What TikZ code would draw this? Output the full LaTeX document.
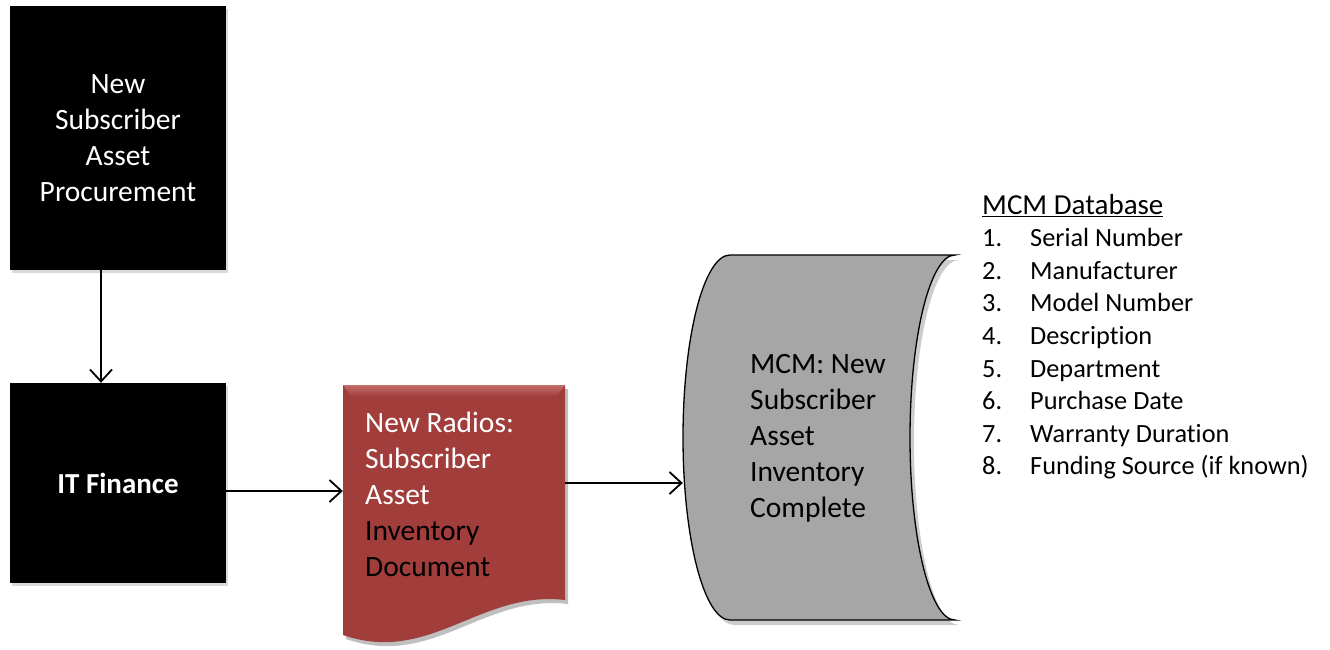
\documentclass[tikz,border=0pt]{standalone}
\usepackage{fontspec}
\setmainfont{Carlito}[Ligatures=NoCommon]
\usetikzlibrary{arrows.meta,shadows}
\definecolor{docred}{RGB}{161,61,59}
\definecolor{docredlight}{RGB}{196,110,106}
\definecolor{storegray}{RGB}{166,166,166}
\begin{document}
\begin{tikzpicture}[x=1pt,y=-1pt,
  blackbox/.style={fill=black,text=white,minimum width=216pt,inner sep=0pt,align=center,
    font=\fontsize{29.5}{36}\selectfont,
    drop shadow={opacity=0.3,shadow xshift=2pt,shadow yshift=-3pt}},
  arr/.style={line width=1.8pt,-{Straight Barb[length=12pt,width=22pt,line width=1.8pt]}},
  bodytext/.style={align=left,inner sep=0pt,font=\fontsize{29.5}{36}\selectfont},
  listtext/.style={align=left,inner sep=0pt,anchor=west,font=\fontsize{26.3}{32.6}\selectfont},
  area/.style={inner sep=0pt}]
\useasboundingbox (0,0) rectangle (1330,649);

% black boxes
\node[blackbox,minimum height=264pt] (proc) at (118,138) {New\\Subscriber\\Asset\\Procurement};
\node[blackbox,minimum height=200pt,font=\fontsize{29}{36}\selectfont\bfseries] (itf) at (118,483) {IT Finance};

% document shape
\fill[black,opacity=0.25] (346,389) -- (568,389) -- (568,604)
  .. controls (483,594) and (433,669) .. (346,639) -- cycle;
\fill[docred] (343,385) -- (565,385) -- (565,600)
  .. controls (480,590) and (430,665) .. (343,635) -- cycle;
\shade[top color=docredlight,bottom color=docred] (343,385) -- (565,385) -- (557,396) -- (351,396) -- cycle;
\node[area,minimum width=222pt,minimum height=215pt] (doc) at (454,492.5) {};
\node[bodytext,anchor=west] (doctext) at (365,494) {\textcolor{white}{New Radios:}\\\textcolor{white}{Subscriber}\\\textcolor{white}{Asset}\\Inventory\\Document};

% stored data shape
\fill[black,opacity=0.2] (734,260) -- (959,260)
  .. controls (934,260) and (914,341) .. (914,442)
  .. controls (914,543) and (934,625) .. (959,625)
  -- (734,625)
  .. controls (708,625) and (687,543) .. (687,442)
  .. controls (687,341) and (708,260) .. (734,260) -- cycle;
\draw[line width=1.3pt,fill=storegray] (730,255) -- (955,255)
  .. controls (930.1,255) and (910,336.7) .. (910,437.5)
  .. controls (910,538.3) and (930.1,620) .. (955,620)
  -- (730,620)
  .. controls (704,620) and (683,538.3) .. (683,437.5)
  .. controls (683,336.7) and (704,255) .. (730,255) -- cycle;
\node[area,minimum width=272pt,minimum height=365pt] (mcm) at (819,437.5) {};
\node[bodytext,anchor=west] (mcmtext) at (750,438.5) {MCM: New\\Subscriber\\Asset\\Inventory\\Complete};

% database list
\node[inner sep=0pt,anchor=west,font=\fontsize{29}{34}\selectfont] (dbtitle) at (982,206) {\underline{MCM Database}};
\node[listtext] (dblist) at (982,354) {%
\makebox[48pt][l]{1.}Serial Number\\
\makebox[48pt][l]{2.}Manufacturer\\
\makebox[48pt][l]{3.}Model Number\\
\makebox[48pt][l]{4.}Description\\
\makebox[48pt][l]{5.}Department\\
\makebox[48pt][l]{6.}Purchase Date\\
\makebox[48pt][l]{7.}Warranty Duration\\
\makebox[48pt][l]{8.}Funding Source (if known)};

% connectors
\coordinate (ax) at (101,0);
\coordinate (r1) at (0,491);
\coordinate (r2) at (0,483);
\draw[arr] (ax |- proc.south) -- (ax |- itf.north);
\draw[arr] (itf.east |- r1) -- (doc.west |- r1);
\draw[arr] (doc.east |- r2) -- (mcm.west |- r2);
\end{tikzpicture}
\end{document}
